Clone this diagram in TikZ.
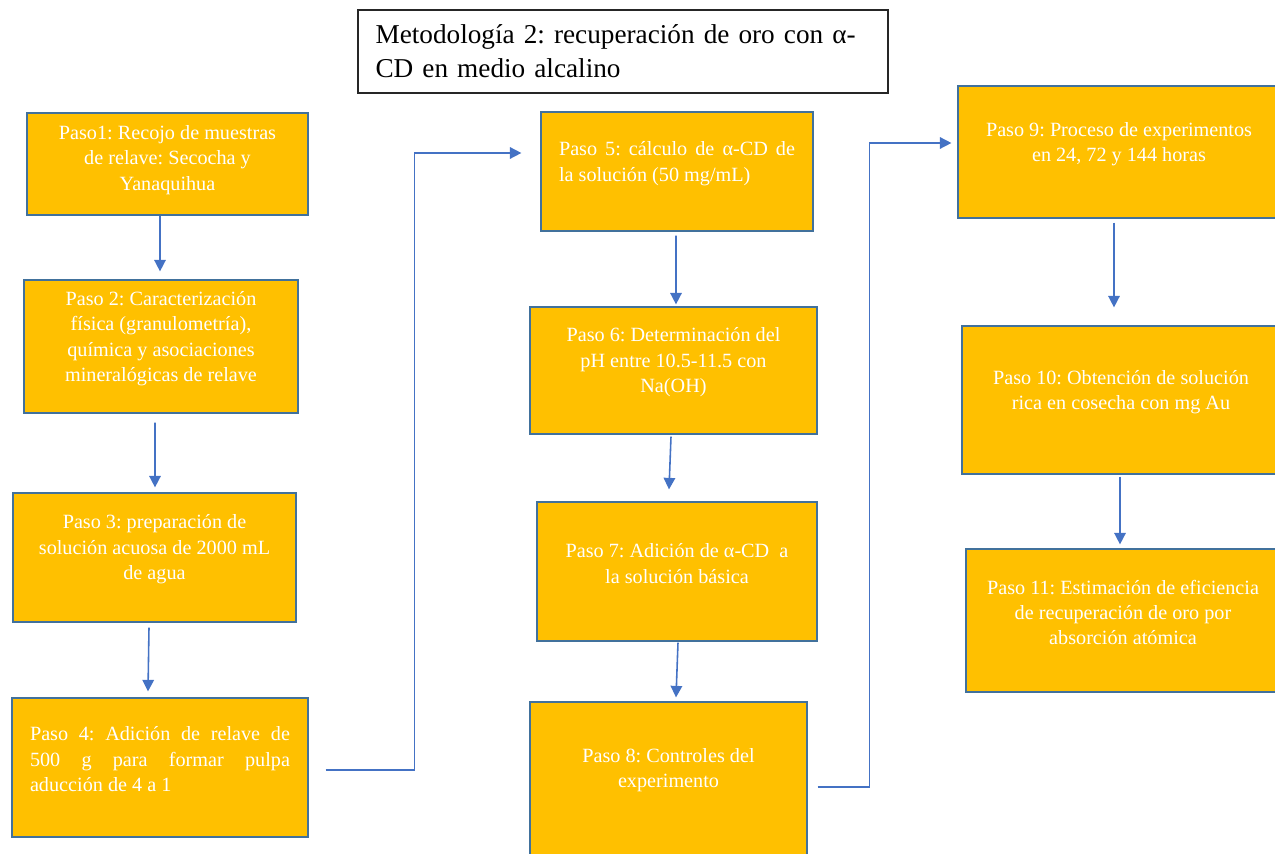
\documentclass[tikz,border=0pt]{standalone}
\usepackage{fontspec}
\setmainfont{Liberation Serif}
\usepackage{xcolor}
\definecolor{cOro}{HTML}{FFC000}
\definecolor{cBorde}{HTML}{41719C}
\definecolor{cFlecha}{HTML}{4472C4}
\usetikzlibrary{arrows.meta,positioning}
\frenchspacing

\begin{document}
\begin{tikzpicture}[
  x=0.02cm,y=-0.02cm,
  font=\fontsize{11.5}{14.5}\selectfont,
  paso/.style={draw=cBorde,fill=cOro,line width=0.7pt,inner sep=0pt},
  ptxt/.style={text=white,align=center,yshift=0.16cm},
  titulo/.style={draw=black!85,fill=white,line width=0.8pt,align=left,
    text width=9.9cm,minimum width=10.6cm,minimum height=1.66cm,
    font=\fontsize{15.5}{19.5}\selectfont},
  arr/.style={-{Triangle[length=2.3mm,width=2.3mm]},cFlecha,line width=0.9pt}]
\useasboundingbox (0,0) rectangle (1275,854);
\clip (0,0) rectangle (1275,854);

\node[titulo] (tit) at (623,51.5) {Metodología 2: recuperación de oro con α-\\CD en medio alcalino};

% columna izquierda
\node[paso,minimum width=5.62cm,minimum height=2.04cm,
  label={[ptxt,yshift=-0.08cm]center:Paso1: Recojo de muestras\\de relave: Secocha y\\Yanaquihua}] (p1) at (167.5,164) {};
\node[paso,minimum width=5.48cm,minimum height=2.66cm,
  label={[ptxt]center:Paso 2: Caracterización\\física (granulometría),\\química y asociaciones\\mineralógicas de relave}] (p2) at (161,346.5) {};
\node[paso,minimum width=5.66cm,minimum height=2.58cm,
  label={[ptxt]center:Paso 3: preparación de\\solución acuosa de 2000 mL\\de agua}] (p3) at (154.5,557.5) {};
\node[paso,minimum width=5.92cm,minimum height=2.78cm,
  label={[ptxt,align=left]center:\makebox[5.2cm][s]{Paso 4: Adición de relave de}\\\makebox[5.2cm][s]{500 g para formar pulpa}\\aducción de 4 a 1}] (p4) at (160,767.5) {};

% columna central
\node[paso,minimum width=5.44cm,minimum height=2.38cm,
  label={[ptxt,align=left]center:\makebox[4.72cm][s]{Paso 5: cálculo de α-CD de}\\la solución (50 mg/mL)}] (p5) at (677,171.5) {};
\node[paso,minimum width=5.74cm,minimum height=2.54cm,
  label={[ptxt]center:Paso 6: Determinación del\\pH entre 10.5-11.5 con\\Na(OH)}] (p6) at (673.5,370.5) {};
\node[paso,minimum width=5.6cm,minimum height=2.78cm,
  label={[ptxt]center:Paso 7: Adición de α-CD\ \ a\\la solución básica}] (p7) at (677,571.5) {};
\node[paso,minimum width=5.54cm,minimum height=3.36cm,
  label={[ptxt,yshift=0.16cm]center:Paso 8: Controles del\\experimento}] (p8) at (668.5,786) {};

% columna derecha
\node[paso,minimum width=6.44cm,minimum height=2.64cm,
  label={[ptxt]center:Paso 9: Proceso de experimentos\\en 24, 72 y 144 horas}] (p9) at (1119,152) {};
\node[paso,minimum width=6.36cm,minimum height=2.96cm,
  label={[ptxt]center:Paso 10: Obtención de solución\\rica en cosecha con mg Au}] (p10) at (1121,400) {};
\node[paso,minimum width=6.28cm,minimum height=2.86cm,
  label={[ptxt]center:Paso 11: Estimación de eficiencia\\de recuperación de oro por\\absorción atómica}] (p11) at (1123,620.5) {};

\draw[arr] ([shift={(-7.5,0)}]p1.south) -- ([shift={(-1,-8)}]p2.north);
\draw[arr] ([shift={(-6,9)}]p2.south) -- ([shift={(0.5,-5)}]p3.north);
\draw[arr] ([shift={(-5.5,5)}]p3.south) -- ([shift={(-12,-6)}]p4.north);
\draw[arr] ([shift={(17,2.5)}]p4.east) -| ([shift={(-126,-18.5)}]p5.west) -- ([shift={(-19,-18.5)}]p5.west);
\draw[arr] ([shift={(-1,4)}]p5.south) -- ([shift={(2.5,-2)}]p6.north);
\draw[arr] ([shift={(-2.5,2)}]p6.south) -- ([shift={(-8,-12)}]p7.north);
\draw[arr] ([shift={(1,1)}]p7.south) -- ([shift={(7.5,-4)}]p8.north);
\draw[arr] ([shift={(10,1)}]p8.east) -| ([shift={(-88,-9)}]p9.west) -- ([shift={(-6,-9)}]p9.west);
\draw[arr] ([shift={(-5,4)}]p9.south) -- ([shift={(-7,-18)}]p10.north);
\draw[arr] ([shift={(-1,2)}]p10.south) -- ([shift={(-3,-4)}]p11.north);
\end{tikzpicture}
\end{document}
